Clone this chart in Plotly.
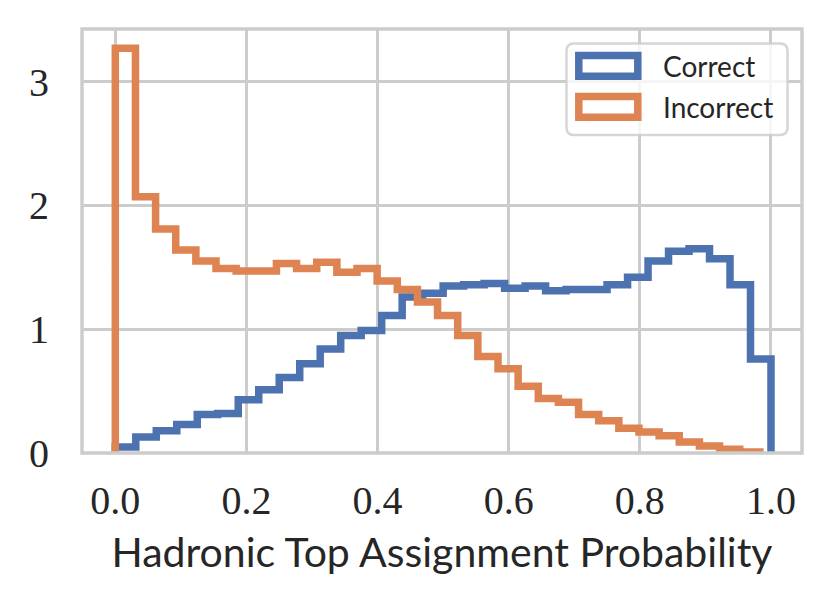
import numpy as np
import plotly.graph_objects as go

# Density histograms, 32 bins each
n_bins = 32
correct_range = (0.0, 1.0)
incorrect_range = (0.0, 0.983)

correct_density = [
    0.049, 0.13, 0.18, 0.23, 0.31, 0.32, 0.43, 0.51,
    0.61, 0.72, 0.84, 0.95, 0.99, 1.11, 1.26, 1.29,
    1.35, 1.36, 1.37, 1.33, 1.35, 1.31, 1.32, 1.32,
    1.36, 1.42, 1.55, 1.63, 1.65, 1.57, 1.36, 0.76,
]
incorrect_density = [
    3.27, 2.07, 1.81, 1.64, 1.55, 1.49, 1.47, 1.47,
    1.53, 1.49, 1.54, 1.46, 1.49, 1.39, 1.32, 1.22,
    1.11, 0.95, 0.78, 0.68, 0.54, 0.44, 0.41, 0.31,
    0.26, 0.20, 0.17, 0.14, 0.089, 0.057, 0.03, 0.008,
]

labels = ["Correct", "Incorrect"]
colors = ["#4C72B0", "#DD8452"]
x_ticks = [0.0, 0.2, 0.4, 0.6, 0.8, 1.0]
x_ticktext = ["0.0", "0.2", "0.4", "0.6", "0.8", "1.0"]
y_ticks = [0, 1, 2, 3]
x_title = "Hadronic Top Assignment Probability"

# page body has an 8px margin, so the figure is a bit smaller than the window
OFF = 8
W, H = 831 - 2 * OFF, 605 - 2 * OFF
M = dict(l=82 - OFF, r=29 - OFF, t=29 - OFF, b=152 - OFF)
PW, PH = W - M["l"] - M["r"], H - M["t"] - M["b"]
GRID = "#cccccc"
SANS = "Lato, 'DejaVu Sans', sans-serif"
SERIF = "'Liberation Serif', 'DejaVu Serif', serif"
LW = 7.5


def step_xy(values, lo, hi):
    # matplotlib histtype="step": up at the first edge, down at the last
    edges = np.linspace(lo, hi, n_bins + 1)
    xs = [edges[0]] + list(edges[:-1]) + [edges[-1]]
    ys = [0] + list(values) + [0]
    return xs, ys


# legend geometry given in window pixels -> paper coords
def px(x):
    return (x - OFF - M["l"]) / PW


def py(y):
    return (H + OFF - M["b"] - y) / PH


fig = go.Figure()

for vals, rng, name, color in [
    (correct_density, correct_range, labels[0], colors[0]),
    (incorrect_density, incorrect_range, labels[1], colors[1]),
]:
    xs, ys = step_xy(vals, *rng)
    fig.add_trace(
        go.Scatter(
            x=xs, y=ys, mode="lines", name=name, showlegend=False,
            line=dict(color=color, width=LW, shape="hv"),
        )
    )

# frame (spines) on top of the data, like matplotlib
fig.add_shape(
    type="rect", xref="paper", yref="paper", x0=0, x1=1, y0=0, y1=1,
    line=dict(color=GRID, width=3.4), layer="above",
)

# ---- legend built by hand (matplotlib patch style boxes) ----
fig.add_shape(
    type="path", xref="paper", yref="paper", layer="above",
    path=(
        f"M{px(574):.4f},{py(43.5):.4f} L{px(780):.4f},{py(43.5):.4f} "
        f"Q{px(787.5):.4f},{py(43.5):.4f} {px(787.5):.4f},{py(51):.4f} "
        f"L{px(787.5):.4f},{py(127.5):.4f} "
        f"Q{px(787.5):.4f},{py(135):.4f} {px(780):.4f},{py(135):.4f} "
        f"L{px(574):.4f},{py(135):.4f} "
        f"Q{px(566.5):.4f},{py(135):.4f} {px(566.5):.4f},{py(127.5):.4f} "
        f"L{px(566.5):.4f},{py(51):.4f} "
        f"Q{px(566.5):.4f},{py(43.5):.4f} {px(574):.4f},{py(43.5):.4f} Z"
    ),
    line=dict(color="rgba(204,204,204,0.8)", width=2.5),
    fillcolor="rgba(255,255,255,0.8)",
)
for i, (name, color) in enumerate(zip(labels, colors)):
    y0 = 55.5 + i * 41
    fig.add_shape(
        type="rect", xref="paper", yref="paper", layer="above",
        x0=px(578.8), x1=px(637.8), y0=py(y0), y1=py(y0 + 20.7),
        line=dict(color=color, width=LW), fillcolor="rgba(0,0,0,0)",
    )
    fig.add_annotation(
        xref="paper", yref="paper", x=px(661), y=py(y0 + 10.5),
        xanchor="left", yanchor="middle", text=name, showarrow=False,
        font=dict(family=SANS, size=28, color="#262626"),
    )

fig.update_layout(
    width=W, height=H, margin=M,
    paper_bgcolor="white", plot_bgcolor="white",
    showlegend=False,
)
fig.update_xaxes(
    range=[-0.0508, 1.0473], tickvals=x_ticks, ticktext=x_ticktext,
    showgrid=True, gridcolor=GRID, gridwidth=2.7, zeroline=False,
    showline=False, ticks="", ticklabelstandoff=20,
    tickfont=dict(family=SERIF, size=40, color="#262626"),
    title=dict(text=x_title, standoff=16,
               font=dict(family=SANS, size=41, color="#262626")),
    automargin=False,
)
fig.update_yaxes(
    range=[0, 3.425], tickvals=y_ticks,
    showgrid=True, gridcolor=GRID, gridwidth=2.7, zeroline=False,
    showline=False, ticks="", ticklabelstandoff=32,
    tickfont=dict(family=SERIF, size=40, color="#262626"),
    automargin=False,
)

fig.write_html("out.html")
